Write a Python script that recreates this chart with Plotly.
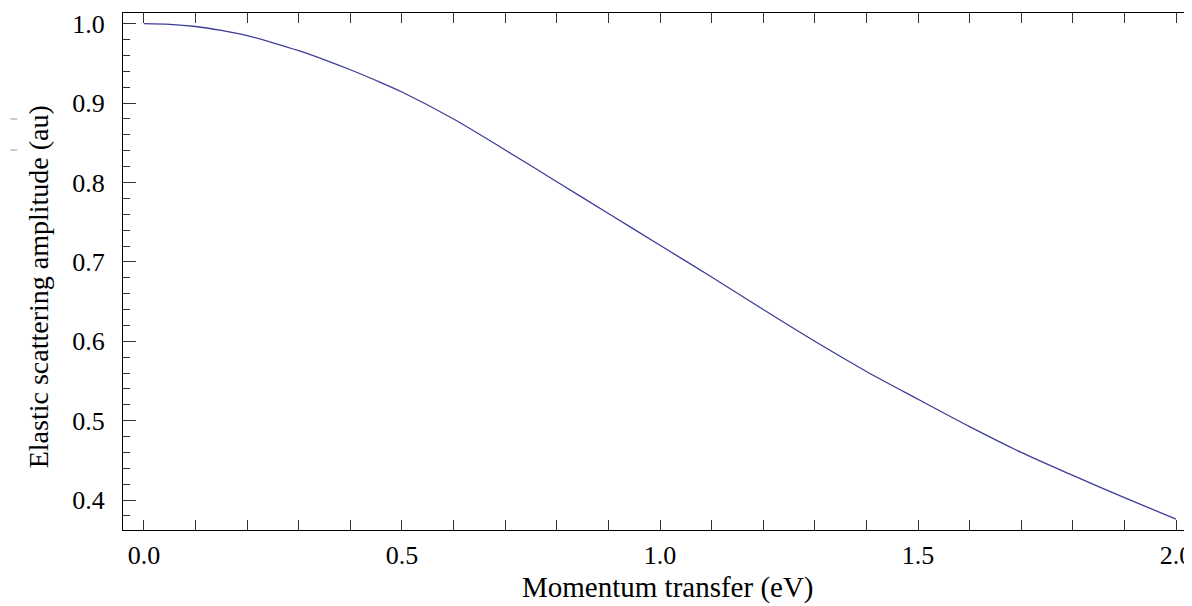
import plotly.graph_objects as go

# Data
momentum = [0.0, 0.05, 0.1, 0.15, 0.2, 0.25, 0.3, 0.35, 0.4, 0.45, 0.5,
            0.6, 0.7, 0.8, 0.9, 1.0,
            1.1, 1.2, 1.3, 1.4, 1.5, 1.6, 1.7, 1.8, 1.9, 2.0]
amplitude = [1.000, 0.9992, 0.9965, 0.9915, 0.985, 0.976, 0.966, 0.9545, 0.942, 0.9285, 0.914,
             0.880, 0.841, 0.801, 0.761, 0.721,
             0.681, 0.640, 0.600, 0.562, 0.527, 0.4925, 0.460, 0.431, 0.403, 0.376]

x_range = [-0.0406, 2.0251]
y_range = [0.3623, 1.0135]

LINE = "#3d3d99"
FONT = "Liberation Serif, Tinos, Times New Roman, Times, DejaVu Serif, serif"
TICKFONT = dict(family=FONT, size=26, color="black")

fig = go.Figure()
fig.add_trace(go.Scatter(x=momentum, y=amplitude, mode="lines",
                         line=dict(color=LINE, width=1.3, shape="spline", smoothing=0.8),
                         showlegend=False, hoverinfo="skip"))
# invisible trace so the right-side tick axis is drawn
fig.add_trace(go.Scatter(x=momentum, y=amplitude, mode="lines", yaxis="y2",
                         line=dict(color="rgba(0,0,0,0)", width=0),
                         showlegend=False, hoverinfo="skip"))

# the page body has an 8px margin, so the figure is offset by (8, 8)
fig.update_layout(
    width=1184, height=598,
    margin=dict(l=115, r=0, t=5, b=76),
    paper_bgcolor="white", plot_bgcolor="white",
    font=dict(family=FONT, size=26, color="black"),
    xaxis=dict(range=x_range, showgrid=False, zeroline=False,
               showline=True, linecolor="black", linewidth=1, mirror="allticks",
               ticks="inside", ticklen=10, tickwidth=1, tickcolor="#333",
               tick0=0, dtick=0.5, tickformat=".1f", ticklabelstandoff=2,
               ticklabeloverflow="allow", tickfont=TICKFONT,
               minor=dict(ticks="inside", ticklen=6, tickwidth=1, tickcolor="#333",
                          tick0=0, dtick=0.1, showgrid=False)),
    yaxis=dict(range=y_range, showgrid=False, zeroline=False,
               showline=True, linecolor="black", linewidth=1, mirror=False,
               ticks="inside", ticklen=13, tickwidth=1, tickcolor="#333",
               tick0=0, dtick=0.1, tickformat=".1f", ticklabelstandoff=12,
               ticklabeloverflow="allow", tickfont=TICKFONT,
               minor=dict(ticks="inside", ticklen=7, tickwidth=1, tickcolor="#333",
                          tick0=0, dtick=0.02, showgrid=False)),
    yaxis2=dict(range=y_range, overlaying="y", side="right", showgrid=False,
                zeroline=False, showline=False, showticklabels=False,
                ticks="inside", ticklen=5, tickwidth=1, tickcolor="#555",
                tick0=0, dtick=0.1),
    annotations=[
        dict(text="Momentum transfer (eV)", xref="paper", yref="paper",
             x=0.5108, y=-0.112, xanchor="center", yanchor="middle",
             showarrow=False, font=dict(family=FONT, size=29, color="black")),
        dict(text="Elastic scattering amplitude (au)", xref="paper", yref="paper",
             x=-0.0795, y=0.470, xanchor="center", yanchor="middle", textangle=-90,
             showarrow=False, font=dict(family=FONT, size=28, color="black")),
    ],
    shapes=[
        dict(type="line", xref="paper", yref="paper", x0=-0.1057, x1=-0.0992,
             y0=0.795, y1=0.795, line=dict(color="#999", width=1)),
        dict(type="line", xref="paper", yref="paper", x0=-0.1057, x1=-0.0992,
             y0=0.735, y1=0.735, line=dict(color="#999", width=1)),
    ],
)

fig.write_html("out.html")
